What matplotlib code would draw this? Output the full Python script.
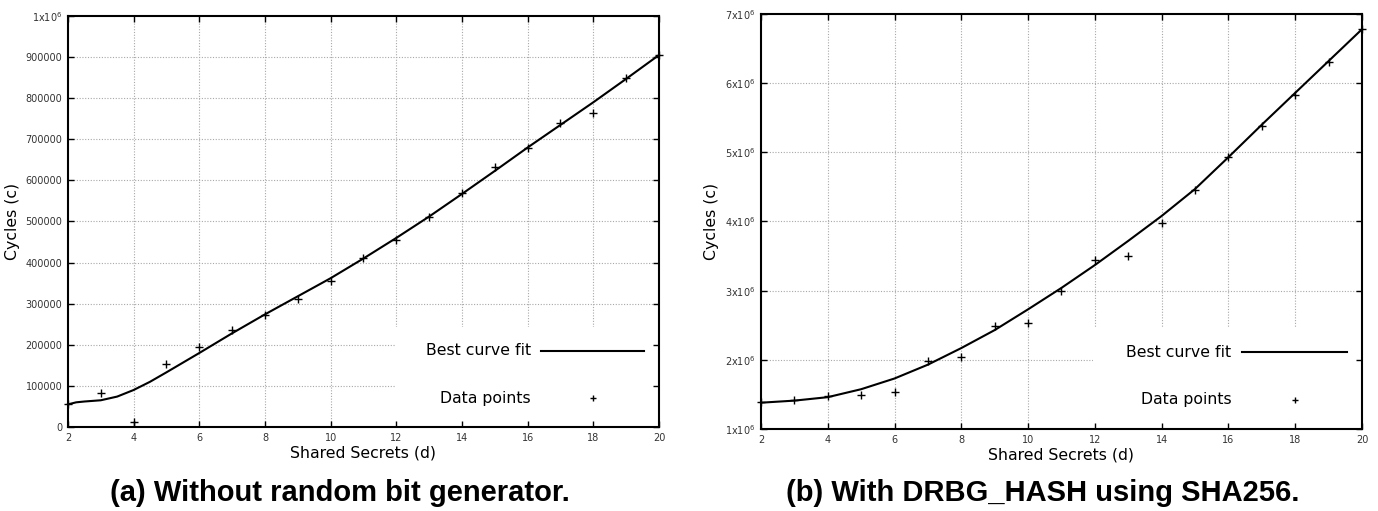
import matplotlib.pyplot as plt
from matplotlib.patches import Rectangle

# data
d = list(range(2, 21))

# (a) without random bit generator
pts_a = [55000, 83000, 13000, 153000, 195000, 237000, 273000, 311000, 356000,
         410000, 455000, 512000, 570000, 632000, 680000, 740000, 765000,
         850000, 905000]
fit_x_a = [2, 2.25, 2.5, 3, 3.5, 4, 4.5, 5, 6, 7, 8, 9, 10, 11, 12, 13, 14,
           15, 16, 17, 18, 19, 20]
fit_a = [55000, 60000, 62000, 65000, 74000, 90000, 110000, 133000, 180000,
         228000, 274000, 318000, 362000, 410000, 460000, 512000, 567000,
         623000, 680000, 735000, 790000, 847000, 905000]
yticks_a = [0, 100000, 200000, 300000, 400000, 500000, 600000, 700000,
            800000, 900000, 1000000]
ylabels_a = ['0', '100000', '200000', '300000', '400000', '500000', '600000',
             '700000', '800000', '900000', r'1x10$^6$']

# (b) with DRBG_HASH using SHA256
pts_b = [1.385e6, 1.415e6, 1.47e6, 1.49e6, 1.535e6, 1.99e6, 2.035e6, 2.49e6,
         2.53e6, 3.0e6, 3.45e6, 3.5e6, 3.98e6, 4.46e6, 4.93e6, 5.38e6, 5.83e6,
         6.31e6, 6.78e6]
fit_x_b = [2, 3, 4, 5, 6, 7, 8, 9, 10, 11, 12, 13, 14, 15, 16, 17, 18, 19, 20]
fit_b = [1.38e6, 1.41e6, 1.46e6, 1.575e6, 1.73e6, 1.93e6, 2.17e6, 2.43e6,
         2.73e6, 3.04e6, 3.37e6, 3.72e6, 4.08e6, 4.47e6, 4.93e6, 5.40e6,
         5.86e6, 6.32e6, 6.78e6]
yticks_b = [1e6, 2e6, 3e6, 4e6, 5e6, 6e6, 7e6]
ylabels_b = [r'%dx10$^6$' % i for i in range(1, 8)]

xticks = list(range(2, 21, 2))

fig = plt.figure(figsize=(13.78, 5.11), dpi=100)
ax_a = fig.add_axes([0.0493, 0.1644, 0.4289, 0.8043])
ax_b = fig.add_axes([0.5522, 0.1605, 0.4362, 0.8121])


def draw_panel(ax, fx, fy, py, yticks, ylabels, ylim):
    ax.set_xlim(2, 20)
    ax.set_ylim(*ylim)
    ax.set_xticks(xticks)
    ax.set_yticks(yticks)
    ax.set_yticklabels(ylabels)
    # grid drawn by hand so the legend box can hide it but not the ticks
    for x in xticks[1:-1]:
        ax.axvline(x, color='#a8a8a8', lw=0.8, ls=(0, (1, 1.5)), zorder=0.5)
    for y in yticks[1:-1]:
        ax.axhline(y, color='#a8a8a8', lw=0.8, ls=(0, (1, 1.5)), zorder=0.5)
    ax.add_patch(Rectangle((0.553, 0), 0.447, 0.243, transform=ax.transAxes,
                           facecolor='white', edgecolor='none', zorder=1))
    ax.plot(fx, fy, color='black', lw=1.5, zorder=3, clip_on=False)
    ax.plot(d, py, ls='none', marker='+', ms=6, mew=1, color='black',
            zorder=3, clip_on=False)
    # legend, gnuplot style
    ax.text(0.783, 0.185, 'Best curve fit', transform=ax.transAxes,
            ha='right', va='center', fontsize=11.3, zorder=4)
    ax.plot([0.80, 0.975], [0.185, 0.185], transform=ax.transAxes,
            color='black', lw=1.5, zorder=4)
    ax.text(0.783, 0.07, 'Data points', transform=ax.transAxes,
            ha='right', va='center', fontsize=11.3, zorder=4)
    ax.plot([0.888], [0.07], transform=ax.transAxes, marker='+', ms=5,
            mew=1, color='black', zorder=4)
    ax.tick_params(direction='in', top=True, right=True, length=4, width=1,
                   labelsize=7, labelcolor='#333333', pad=4)
    for s in ax.spines.values():
        s.set_linewidth(1.5)
    ax.set_xlabel('Shared Secrets (d)', fontsize=11.3, labelpad=2)
    ax.set_ylabel('Cycles (c)', fontsize=11.3, labelpad=4)


draw_panel(ax_a, fit_x_a, fit_a, pts_a, yticks_a, ylabels_a, (0, 1e6))
draw_panel(ax_b, fit_x_b, fit_b, pts_b, yticks_b, ylabels_b, (1e6, 7e6))

fig.text(0.247, 0.035, '(a) Without random bit generator.', ha='center',
         va='center', fontsize=21, fontweight='bold', family='Liberation Sans')
fig.text(0.757, 0.035, '(b) With DRBG_HASH using SHA256.', ha='center',
         va='center', fontsize=21, fontweight='bold', family='Liberation Sans')

fig.savefig('out.png', dpi=100)
